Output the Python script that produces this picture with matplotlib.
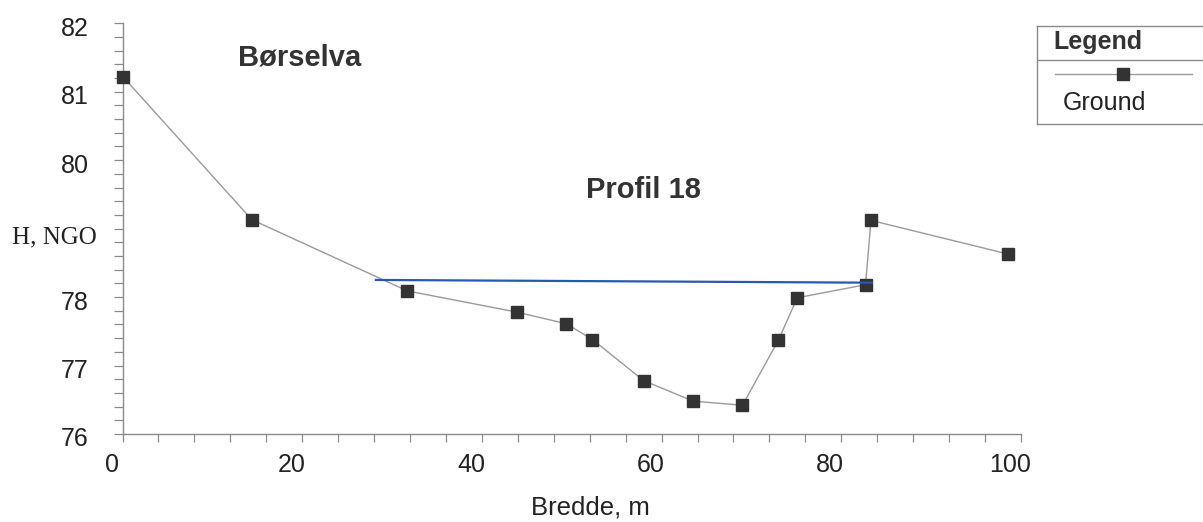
import matplotlib
matplotlib.use("Agg")
import matplotlib.pyplot as plt
import matplotlib.transforms as mtransforms
from matplotlib.ticker import MultipleLocator, FixedLocator, FixedFormatter

plt.rcParams['font.family'] = ['Liberation Sans', 'DejaVu Sans']

# ground profile, Profil 18
bredde = [0.1, 14.4, 31.7, 43.9, 49.4, 52.3, 58.0, 63.5, 69.0, 73.0, 75.1, 82.7, 83.3, 98.5]
hoyde = [81.21, 79.13, 78.09, 77.78, 77.61, 77.38, 76.78, 76.48, 76.42, 77.37, 77.99, 78.18, 79.12, 78.63]

# water level
vann_x = [28.2, 83.4]
vann_y = [78.25, 78.21]

yticks = [76, 77, 78, 79, 80, 81, 82]
yticklabels = ['76', '77', '78', '', '80', '81', '82']
xticks = [0, 20, 40, 60, 80, 100]

fig = plt.figure(figsize=(12.03, 5.22), dpi=100)
ax = fig.add_axes([122.5 / 1203, 88 / 522, (1021 - 122.5) / 1203, (432 - 21.7) / 522 + 0.001])

ax.plot(bredde, hoyde, color='#9a9a9a', lw=1.0, marker='s', ms=8.3,
        mfc='#333333', mec='#333333', zorder=3, clip_on=False)
ax.plot(vann_x, vann_y, color='#2858b0', lw=1.6, zorder=4)

ax.set_xlim(0, 100)
ax.set_ylim(76, 82)
for s in ['top', 'right']:
    ax.spines[s].set_visible(False)
for s in ['left', 'bottom']:
    ax.spines[s].set_color('#8a8a8a')
    ax.spines[s].set_linewidth(1.0)

ax.xaxis.set_major_locator(FixedLocator(xticks))
ax.xaxis.set_minor_locator(MultipleLocator(4))
ax.yaxis.set_major_locator(FixedLocator(yticks))
ax.yaxis.set_major_formatter(FixedFormatter(yticklabels))
ax.yaxis.set_minor_locator(MultipleLocator(0.2))

ax.tick_params(axis='x', which='both', direction='out', length=5.5, width=0.9,
               color='#8a8a8a', labelsize=18, pad=8, labelcolor='#222222')
ax.tick_params(axis='y', which='both', direction='out', length=6.5, width=0.9,
               color='#8a8a8a', labelsize=18, pad=18, labelcolor='#222222')

# tick labels sit a little left of their ticks in the original
shift = mtransforms.ScaledTranslation(-11 / 100, 0, fig.dpi_scale_trans)
for lab in ax.get_xticklabels():
    lab.set_transform(lab.get_transform() + shift)
shift_y = mtransforms.ScaledTranslation(0, -3 / 100, fig.dpi_scale_trans)
for lab in ax.get_yticklabels():
    lab.set_transform(lab.get_transform() + shift_y)

fig.text(12 / 1203, 1 - 237 / 522, 'H, NGO', family='Liberation Serif', fontsize=18,
         ha='left', va='center', color='#222222')
fig.text(590 / 1203, 1 - 507 / 522, 'Bredde, m', fontsize=18.5, ha='center', va='center',
         color='#222222')
fig.text(300 / 1203, 1 - 57 / 522, 'Børselva', fontsize=21, fontweight='bold',
         ha='center', va='center', color='#333333')
fig.text(643 / 1203, 1 - 190 / 522, 'Profil 18', fontsize=21, fontweight='bold',
         ha='center', va='center', color='#333333')

# legend box
lax = fig.add_axes([1037 / 1203, 1 - 124 / 522, 173 / 1203, 98 / 522])
lax.set_xlim(0, 1)
lax.set_ylim(1, 0)
lax.set_xticks([])
lax.set_yticks([])
for s in lax.spines.values():
    s.set_color('#8a8a8a')
    s.set_linewidth(1.0)
lax.axhline(0.347, color='#8a8a8a', lw=1.0)
lax.plot([0.104, 0.896], [0.49, 0.49], color='#9a9a9a', lw=1.0)
lax.plot([0.497], [0.49], marker='s', ms=8.3, color='#333333', ls='none')
lax.text(0.092, 0.163, 'Legend', fontsize=18, fontweight='bold', ha='left', va='center',
         color='#333333')
lax.text(0.15, 0.786, 'Ground', fontsize=18, ha='left', va='center', color='#222222')

fig.savefig('out.png', dpi=100)
